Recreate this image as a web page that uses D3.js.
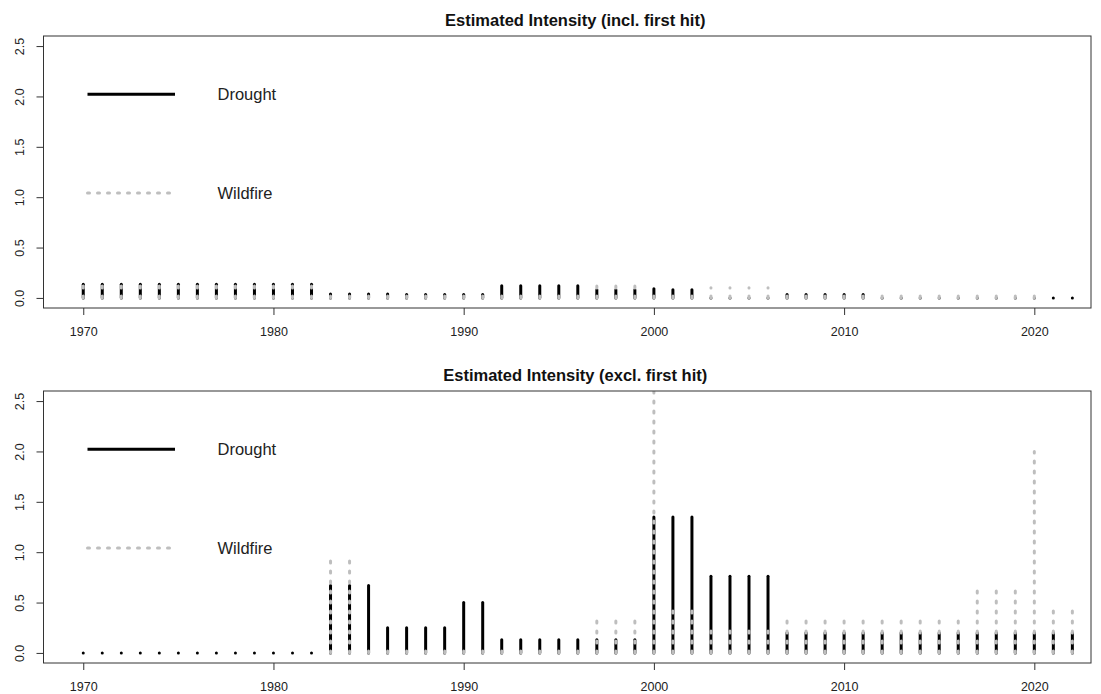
<!DOCTYPE html>
<html>
<head>
<meta charset="utf-8">
<script src="https://cdn.jsdelivr.net/npm/d3@7/dist/d3.min.js"></script>
<style>
  html, body { margin: 0; padding: 0; background: #fff; }
  svg { display: block; font-family: "Liberation Sans", Arial, Helvetica, sans-serif; }
</style>
</head>
<body>
<svg id="chart" width="1101" height="694"></svg>
<script>
// Years shown on the x axis
const years = d3.range(1970, 2023);

// Estimated intensity including the first hit
const droughtIncl = [
  0.135, 0.135, 0.135, 0.135, 0.135, 0.135, 0.135, 0.135, 0.135, 0.135, 0.135, 0.135, 0.135, // 1970-1982
  0.04, 0.04, 0.04, 0.04,                 // 1983-1986
  0.035, 0.035, 0.035, 0.035, 0.035,      // 1987-1991
  0.12, 0.12, 0.12, 0.12, 0.12,           // 1992-1996
  0.08, 0.08, 0.08,                       // 1997-1999
  0.09, 0.08, 0.08,                       // 2000-2002
  0, 0, 0, 0,                             // 2003-2006
  0.035, 0.035, 0.035, 0.035, 0.035,      // 2007-2011
  0, 0, 0, 0, 0, 0, 0, 0, 0,              // 2012-2020
  0, 0                                    // 2021-2022
];
const wildfireIncl = [
  0.12, 0.12, 0.12, 0.12, 0.12, 0.12, 0.12, 0.12, 0.12, 0.12, 0.12, 0.12, 0.12, // 1970-1982
  0.02, 0.02, 0.02, 0.02, 0.02, 0.02, 0.02, 0.02, 0.02, 0.02, 0.02, 0.02, 0.02, 0.02, // 1983-1996
  0.12, 0.12, 0.12,                       // 1997-1999
  0.02, 0.02, 0.02,                       // 2000-2002
  0.10, 0.10, 0.10, 0.10,                 // 2003-2006
  0.02, 0.02, 0.02, 0.02, 0.02, 0.02, 0.02, 0.02, 0.02, 0.02, 0.02, 0.02, 0.02, 0.02, // 2007-2020
  null, null                              // 2021-2022
];

// Estimated intensity excluding the first hit
const droughtExcl = [
  0, 0, 0, 0, 0, 0, 0, 0, 0, 0, 0, 0, 0,  // 1970-1982
  0.67, 0.67, 0.67,                       // 1983-1985
  0.25, 0.25, 0.25, 0.25,                 // 1986-1989
  0.5, 0.5,                               // 1990-1991
  0.13, 0.13, 0.13, 0.13, 0.13, 0.13, 0.13, 0.13, // 1992-1999
  1.35, 1.35, 1.35,                       // 2000-2002
  0.76, 0.76, 0.76, 0.76,                 // 2003-2006
  0.2, 0.2, 0.2, 0.2, 0.2, 0.2, 0.2, 0.2, 0.2, 0.2, 0.2, 0.2, 0.2, 0.2, 0.2, 0.2 // 2007-2022
];
const wildfireExcl = [
  null, null, null, null, null, null, null, null, null, null, null, null, null, // 1970-1982
  0.96, 0.96,                             // 1983-1984
  0.02, 0.02, 0.02, 0.02, 0.02, 0.02, 0.02, 0.02, 0.02, 0.02, 0.02, 0.02, // 1985-1996
  0.34, 0.34, 0.34,                       // 1997-1999
  2.75,                                   // 2000
  0.44, 0.44,                             // 2001-2002
  0.24, 0.24, 0.24, 0.24,                 // 2003-2006
  0.34, 0.34, 0.34, 0.34, 0.34, 0.34, 0.34, 0.34, 0.34, 0.34, // 2007-2016
  0.65, 0.65, 0.65,                       // 2017-2019
  2.0,                                    // 2020
  0.44, 0.44                              // 2021-2022
];

const xTicks = [1970, 1980, 1990, 2000, 2010, 2020];
const yTicks = [0, 0.5, 1.0, 1.5, 2.0, 2.5];
const seriesNames = ["Drought", "Wildfire"];

const panels = [
  { title: "Estimated Intensity (incl. first hit)", drought: droughtIncl, wildfire: wildfireIncl, top: 36, bottom: 308 },
  { title: "Estimated Intensity (excl. first hit)", drought: droughtExcl, wildfire: wildfireExcl, top: 391, bottom: 663 }
];

const svg = d3.select("#chart");
const left = 43.5, right = 1091;

const x = d3.scaleLinear().domain([1967.91, 2022.98]).range([left, right]);

const styles = {
  Drought: { stroke: "#000", dash: null },
  Wildfire: { stroke: "#bebebe", dash: "2 8" }
};

panels.forEach((p, i) => {
  const y = d3.scaleLinear().domain([-0.1, 2.6]).range([p.bottom, p.top]);
  const g = svg.append("g");

  const clipId = "plotclip" + i;
  svg.append("defs").append("clipPath").attr("id", clipId)
    .append("rect")
    .attr("x", left).attr("y", p.top)
    .attr("width", right - left).attr("height", p.bottom - p.top);

  // Vertical "h"-type spikes from zero up to each value
  const marks = g.append("g").attr("clip-path", `url(#${clipId})`);
  const spike = (yr, v) => {
    const y0 = y(0);
    let y1 = y(v);
    if (y0 - y1 < 0.05) y1 = y0 - 0.05; // keep a visible dot for zero values
    return `M${x(yr)},${y0}L${x(yr)},${y1}`;
  };
  [["Drought", p.drought], ["Wildfire", p.wildfire]].forEach(([name, vals]) => {
    const st = styles[name];
    marks.append("g").selectAll("path")
      .data(years.map((yr, k) => ({ yr, v: vals[k] })).filter(d => d.v !== null))
      .join("path")
      .attr("d", d => spike(d.yr, d.v))
      .attr("fill", "none")
      .attr("stroke", st.stroke)
      .attr("stroke-width", 3)
      .attr("stroke-linecap", "round")
      .attr("stroke-dasharray", st.dash);
  });

  // Axes
  const yAxis = g.append("g")
    .attr("transform", `translate(${left},0)`)
    .call(d3.axisLeft(y).tickValues(yTicks).tickSize(7).tickFormat(d3.format(".1f")));
  yAxis.select(".domain").remove();
  yAxis.selectAll(".tick line").attr("stroke", "#333");
  yAxis.selectAll(".tick text")
    .attr("x", 0).attr("y", 0).attr("dy", null)
    .attr("text-anchor", "middle")
    .attr("transform", "translate(-19.5,0) rotate(-90)")
    .attr("fill", "#222")
    .style("font-size", "12.5px")
    .style("font-family", "'Liberation Sans', Arial, Helvetica, sans-serif");

  const xAxis = g.append("g")
    .attr("transform", `translate(0,${p.bottom})`)
    .call(d3.axisBottom(x).tickValues(xTicks).tickSize(7).tickFormat(d3.format("d")));
  xAxis.select(".domain").remove();
  xAxis.selectAll(".tick line").attr("stroke", "#333");
  xAxis.selectAll(".tick text")
    .attr("y", 28).attr("dy", null)
    .attr("fill", "#222")
    .style("font-size", "12.5px")
    .style("font-family", "'Liberation Sans', Arial, Helvetica, sans-serif");

  // Plot frame
  g.append("rect")
    .attr("x", left).attr("y", p.top)
    .attr("width", right - left).attr("height", p.bottom - p.top)
    .attr("fill", "none").attr("stroke", "#333").attr("stroke-width", 1);

  // Title
  g.append("text")
    .attr("x", (left + right) / 2 + 8).attr("y", p.top - 10)
    .attr("text-anchor", "middle")
    .attr("font-weight", "bold")
    .attr("font-size", "16.5px")
    .attr("fill", "#111")
    .text(p.title);

  // Legend
  const legend = g.append("g");
  const legendRows = [58.3, 157];
  seriesNames.forEach((name, k) => {
    const st = styles[name];
    const ly = p.top + legendRows[k];
    legend.append("line")
      .attr("x1", left + 44).attr("x2", left + 131.5)
      .attr("y1", ly).attr("y2", ly)
      .attr("stroke", st.stroke).attr("stroke-width", 3)
      .attr("stroke-linecap", name === "Drought" ? "butt" : "round")
      .attr("stroke-dasharray", st.dash);
    legend.append("text")
      .attr("x", left + 174).attr("y", ly).attr("dy", "0.36em")
      .attr("font-size", "16.5px")
      .attr("fill", "#222")
      .text(name);
  });
});
</script>
</body>
</html>
